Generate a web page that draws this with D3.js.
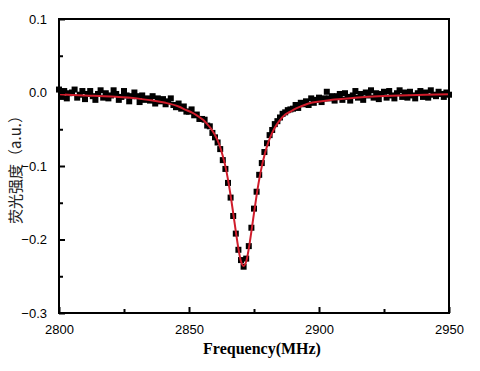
<!DOCTYPE html>
<html>
<head>
<meta charset="utf-8">
<script src="https://cdn.jsdelivr.net/npm/d3@7/dist/d3.min.js"></script>
<style>
  body { margin: 0; background: #fff; }
  svg { display: block; }
  .tick text { font-family: "Liberation Sans", Arial, sans-serif; font-size: 13px; fill: #000; }
</style>
</head>
<body>
<svg width="480" height="371"></svg>
<script>
// measured points, one per MHz from 2800 to 2950
var freqStart = 2800, freqStep = 1;
var signal = [
  0.004, -0.006, 0.002, -0.008, -0.001,
  0.000, 0.004, -0.007, -0.003, 0.002,
  -0.009, -0.002, 0.002, -0.005, -0.010,
  -0.002, 0.003, -0.007, -0.001, -0.008,
  -0.004, 0.003, -0.002, -0.010, -0.006,
  0.002, -0.004, -0.012, -0.005, 0.000,
  -0.005, -0.013, -0.004, -0.010, -0.008,
  -0.011, -0.005, -0.015, -0.008, -0.012,
  -0.009, -0.016, -0.012, -0.008, -0.017,
  -0.020, -0.015, -0.022, -0.019, -0.026,
  -0.026, -0.023, -0.031, -0.030, -0.036,
  -0.036, -0.037, -0.045, -0.046, -0.055,
  -0.061, -0.068, -0.077, -0.092, -0.104,
  -0.123, -0.143, -0.168, -0.192, -0.214,
  -0.228, -0.237, -0.226, -0.209, -0.184,
  -0.158, -0.135, -0.112, -0.096, -0.081,
  -0.069, -0.058, -0.051, -0.043, -0.039,
  -0.034, -0.029, -0.027, -0.024, -0.023,
  -0.022, -0.017, -0.021, -0.014, -0.016,
  -0.012, -0.017, -0.008, -0.014, -0.010,
  -0.007, -0.013, -0.008, 0.001, -0.008,
  -0.005, -0.011, -0.005, -0.002, -0.010,
  -0.001, -0.006, -0.011, -0.004, 0.002,
  -0.007, -0.002, -0.010, 0.000, -0.004,
  0.003, -0.007, -0.001, -0.009, -0.002,
  0.001, -0.007, 0.002, -0.004, -0.008,
  -0.001, 0.003, -0.006, 0.000, -0.007,
  0.001, -0.004, -0.008, -0.001, 0.002,
  -0.006, 0.000, -0.007, 0.003, -0.003,
  -0.005, 0.001, -0.002, -0.006, 0.000,
  -0.003
];

// fitted curve (red line)
var fitFreq = [2800, 2810, 2820, 2830, 2836, 2841, 2846, 2849, 2851, 2853, 2855, 2856, 2857, 2858, 2859,
  2860, 2861, 2862, 2863, 2864, 2865, 2866, 2867, 2868, 2869, 2870, 2871, 2872, 2873, 2874, 2875,
  2876, 2877, 2878, 2879, 2880, 2881, 2882, 2883, 2884, 2885, 2886, 2887, 2889, 2891, 2893, 2896,
  2901, 2906, 2911, 2921, 2931, 2941, 2950];
var fitVal = [-0.0025, -0.004, -0.0055, -0.008, -0.011, -0.014, -0.019, -0.024, -0.027, -0.031, -0.036, -0.039, -0.043, -0.047, -0.052,
  -0.058, -0.065, -0.0745, -0.0865, -0.1005, -0.1185, -0.140, -0.164, -0.189, -0.2125, -0.230, -0.236, -0.230, -0.2125, -0.189, -0.164,
  -0.140, -0.1185, -0.1005, -0.0856, -0.0733, -0.0632, -0.0549, -0.048, -0.0423, -0.0375, -0.0334, -0.030, -0.026, -0.022, -0.019, -0.015,
  -0.012, -0.0095, -0.008, -0.0055, -0.004, -0.003, -0.0025];

var xTicks = [2800, 2850, 2900, 2950];
var xMinor = [2825, 2875, 2925];
var yTicks = [-0.3, -0.2, -0.1, 0.0, 0.1];
var yMinor = [-0.25, -0.15, -0.05, 0.05];

var svg = d3.select("svg"),
    margin = {top: 19, right: 31, bottom: 58, left: 59},
    width = 480 - margin.left - margin.right,
    height = 371 - margin.top - margin.bottom,
    g = svg.append("g").attr("transform", "translate(" + margin.left + "," + margin.top + ")");

var x = d3.scaleLinear().domain([2800, 2950]).range([0, width]),
    y = d3.scaleLinear().domain([-0.3, 0.1]).range([height, 0]);

var points = signal.map(function(v, i) { return {f: freqStart + i * freqStep, v: v}; });
var fit = fitFreq.map(function(f, i) { return {f: f, v: fitVal[i]}; });

// data squares
var sq = 6;
g.append("g").selectAll("rect")
  .data(points)
  .enter().append("rect")
  .attr("x", function(d) { return x(d.f) - sq / 2; })
  .attr("y", function(d) { return y(d.v) - sq / 2; })
  .attr("width", sq)
  .attr("height", sq)
  .attr("fill", "#000");

// fit line
var line = d3.line()
  .x(function(d) { return x(d.f); })
  .y(function(d) { return y(d.v); })
  .curve(d3.curveMonotoneX);

g.append("path")
  .datum(fit)
  .attr("d", line)
  .attr("fill", "none")
  .attr("stroke", "#d01c2b")
  .attr("stroke-width", 2);

// frame
g.append("rect")
  .attr("width", width).attr("height", height)
  .attr("fill", "none").attr("stroke", "#000").attr("stroke-width", 2);

// axes, ticks pointing inward
var xAxis = g.append("g")
  .attr("transform", "translate(0," + height + ")")
  .call(d3.axisBottom(x).tickValues(xTicks).tickFormat(d3.format("d")).tickSizeInner(-6).tickSizeOuter(0).tickPadding(12));
xAxis.select(".domain").remove();
xAxis.selectAll(".tick line").attr("stroke-width", 2);

g.append("g")
  .attr("transform", "translate(0," + height + ")")
  .call(d3.axisBottom(x).tickValues(xMinor).tickFormat("").tickSizeInner(-4).tickSizeOuter(0))
  .call(function(a) { a.select(".domain").remove(); a.selectAll(".tick line").attr("stroke-width", 2); });

var yAxis = g.append("g")
  .call(d3.axisLeft(y).tickValues(yTicks).tickFormat(d3.format(".1f")).tickSizeInner(-6).tickSizeOuter(0).tickPadding(12));
yAxis.select(".domain").remove();
yAxis.selectAll(".tick line").attr("stroke-width", 2);

g.append("g")
  .call(d3.axisLeft(y).tickValues(yMinor).tickFormat("").tickSizeInner(-4).tickSizeOuter(0))
  .call(function(a) { a.select(".domain").remove(); a.selectAll(".tick line").attr("stroke-width", 2); });

// titles
svg.append("text")
  .attr("x", margin.left + width / 2 + 8)
  .attr("y", 354)
  .attr("text-anchor", "middle")
  .style("font-family", "'Liberation Serif', 'Times New Roman', serif")
  .style("font-weight", "bold")
  .style("font-size", "16px")
  .text("Frequency(MHz)");

svg.append("text")
  .attr("transform", "translate(21,166) rotate(-90)")
  .attr("text-anchor", "middle")
  .style("font-family", "'Noto Sans CJK SC', sans-serif")
  .style("font-size", "15px")
  .style("fill", "#222")
  .text("荧光强度（a.u.）");
</script>
</body>
</html>
